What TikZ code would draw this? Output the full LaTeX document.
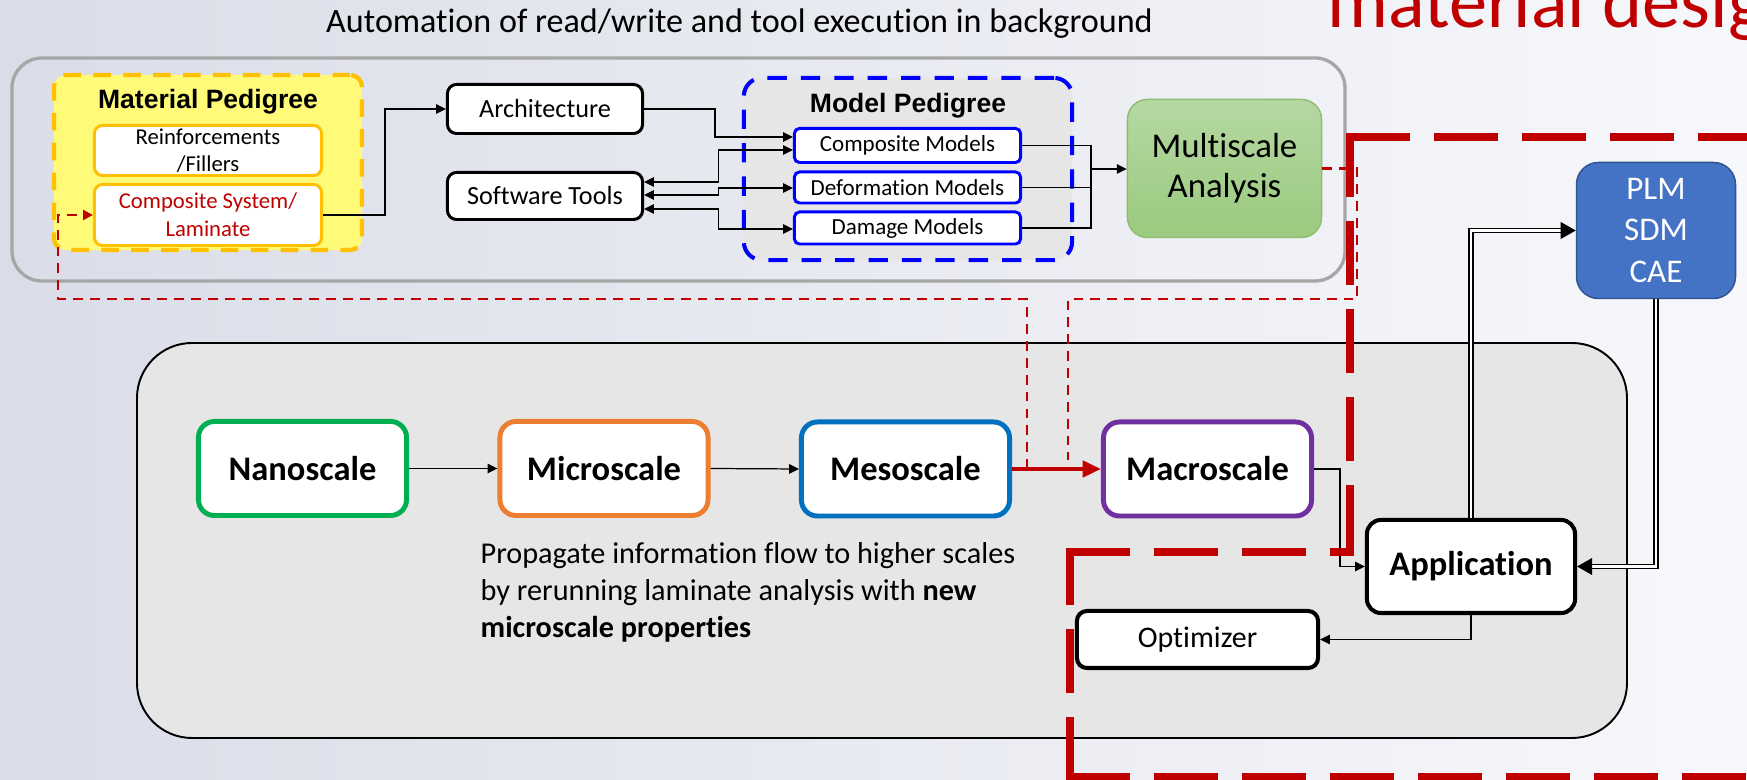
\documentclass[tikz,border=0pt]{standalone}
\usepackage{fontspec}
\setmainfont{Carlito}[Ligatures=NoCommon]
\newfontfamily\arialfont{Liberation Sans}
\usetikzlibrary{arrows.meta,calc}
\definecolor{bgL}{HTML}{DADDE8}
\definecolor{bgR}{HTML}{F7F8FB}
\definecolor{dred}{HTML}{C00000}
\definecolor{gold}{HTML}{FFC000}
\definecolor{lemon}{HTML}{FFFA78}
\definecolor{pedblue}{HTML}{0000FF}
\definecolor{panel}{HTML}{E6E6E6}
\definecolor{frame}{HTML}{A6A6A6}
\definecolor{greenT}{HTML}{B5D8A2}
\definecolor{greenB}{HTML}{9BCA7F}
\definecolor{greenE}{HTML}{8CBE6E}
\definecolor{plmfill}{HTML}{4472C4}
\definecolor{plmedge}{HTML}{2F528F}
\definecolor{nanoC}{HTML}{00B050}
\definecolor{microC}{HTML}{ED7D31}
\definecolor{mesoC}{HTML}{0070C0}
\definecolor{macroC}{HTML}{7030A0}
\begin{document}
\begin{tikzpicture}[x=0.01cm,y=-0.01cm,
  conn/.style={line width=0.35pt, draw=black},
  arr/.style={conn, -{Triangle[length=2.8pt,width=2.7pt]}},
  biarr/.style={conn, {Triangle[length=2.8pt,width=2.7pt]}-{Triangle[length=2.8pt,width=2.7pt]}},
  fbdash/.style={draw=dred, line width=0.7pt, dash pattern=on 2.8pt off 2pt},
  bigdash/.style={draw=dred, line width=2pt, line cap=rect, dash pattern=on 16.2pt off 8.8pt},
  dbl/.style={draw=black, line width=0.35pt, double=white, double distance=0.8pt},
  dbltip/.style={line width=0.35pt, -{Triangle[length=4.3pt,width=4.8pt]}},
  whitebox/.style={draw=black, fill=white, line width=0.85pt, rounded corners=0.09cm, inner sep=0pt, minimum width=1.95cm, font=\fontsize{7.45}{9}\selectfont},
  modelbox/.style={draw=pedblue, fill=white, line width=0.85pt, rounded corners=0.05cm, inner sep=0pt, minimum width=2.26cm, font=\fontsize{6.55}{8}\selectfont},
  matbox/.style={draw=gold, fill=white, line width=0.85pt, rounded corners=0.08cm, inner sep=0pt, minimum width=2.27cm, align=center},
  scalebox/.style={draw=#1, fill=white, line width=1.4pt, rounded corners=0.16cm, inner sep=0pt, minimum width=2.08cm, minimum height=0.94cm, font=\bfseries\fontsize{9.8}{11}\selectfont},
  heavybox/.style={draw=black, fill=white, line width=1.15pt, rounded corners=0.14cm, inner sep=0pt},
  pedlabel/.style={font=\arialfont\bfseries\fontsize{7.55}{9}\selectfont, inner sep=0pt}
]
\useasboundingbox (0,0) rectangle (1747,780);
\clip (0,0) rectangle (1747,780);
\shade[left color=bgL, right color=bgR] (0,0) rectangle (1747,780);

% headings
\node[font=\fontsize{9.7}{11}\selectfont, anchor=base, inner sep=0pt] (head) at (739.5,33) {Automation of read/write and tool execution in background};
\node[font=\fontsize{21.7}{26}\selectfont, text=dred, anchor=base west, inner sep=0pt] (design) at (1327,28) {material design};

% frames
\draw[frame, line width=0.94pt, rounded corners=0.3cm] (12,58) rectangle (1345,281);
\draw[black, fill=panel, line width=0.55pt, rounded corners=0.55cm] (137,343) rectangle (1627,738);

% material pedigree
\node[draw=gold, fill=lemon, line width=1.2pt, dash pattern=on 5pt off 3.5pt, rounded corners=0.12cm, minimum width=3.08cm, minimum height=1.75cm] (matped) at (208,162.5) {};
\node[pedlabel] (matlbl) at (208,102) {Material Pedigree};
\node[matbox, minimum height=0.50cm, font=\fontsize{6.45}{7.7}\selectfont] (reinf) at (208,150.5) {Reinforcements\\/Fillers};
\node[matbox, minimum height=0.61cm, text=dred, font=\fontsize{6.45}{8}\selectfont] (compsys) at (208,215) {Composite System/\\Laminate};

% inputs
\node[whitebox, minimum height=0.49cm] (arch) at (545,109) {Architecture};
\node[whitebox, minimum height=0.47cm] (soft) at (545,196) {Software Tools};

% model pedigree
\node[draw=pedblue, fill=panel, line width=1.15pt, dash pattern=on 5.5pt off 4pt, rounded corners=0.18cm, minimum width=3.28cm, minimum height=1.82cm] (modped) at (908,169) {};
\node[pedlabel] (modlbl) at (908,106) {Model Pedigree};
\node[modelbox, minimum height=0.34cm] (compm) at (907.5,145.5) {Composite Models};
\node[modelbox, minimum height=0.31cm] (deform) at (907.5,187.5) {Deformation Models};
\node[modelbox, minimum height=0.32cm] (damage) at (907.5,228) {Damage Models};

% analysis and data management
\node[draw=greenE, line width=0.4pt, top color=greenT, bottom color=greenB, rounded corners=0.2cm, minimum width=1.94cm, minimum height=1.38cm, align=center, font=\fontsize{9.9}{11.4}\selectfont] (multi) at (1224.5,168.5) {Multiscale\\Analysis};
\node[draw=plmedge, fill=plmfill, line width=0.4pt, rounded corners=0.22cm, minimum width=1.59cm, minimum height=1.36cm, text=white, align=center, font=\fontsize{9.4}{11.7}\selectfont] (plm) at (1656,230.5) {PLM\\SDM\\CAE};

% scales
\node[scalebox=nanoC] (nano) at (302.5,468.5) {Nanoscale};
\node[scalebox=microC] (micro) at (604,468.5) {Microscale};
\node[scalebox=mesoC] (meso) at (905.5,469) {Mesoscale};
\node[scalebox=macroC] (macro) at (1207.5,469) {Macroscale};
\node[heavybox, minimum width=2.08cm, minimum height=0.93cm, font=\bfseries\fontsize{9.8}{11}\selectfont] (app) at (1471,566.5) {Application};
\node[heavybox, rounded corners=0.1cm, minimum width=2.41cm, minimum height=0.57cm, font=\fontsize{8.5}{10}\selectfont] (opt) at (1197.5,639.5) {Optimizer};

\node[anchor=north west, align=left, inner sep=0pt, font=\fontsize{8.6}{10.5}\selectfont] (note) at (480,542) {Propagate information flow to higher scales\\by rerunning laminate analysis with \textbf{new}\\\textbf{microscale properties}};

% connectors, top row
\draw[arr] (compsys.east) -- ++(62,0) |- (arch.west);
\draw[arr] (arch.east) -- ++(71,0) |- ($(compm.west)+(0,-8.5)$);
\draw[biarr] ($(soft.east)+(0,-14)$) -| ($(compm.west)+(-74.5,4.5)$) -- ($(compm.west)+(0,4.5)$);
\draw[biarr] ($(soft.east)+(0,-1)$) -| ($(deform.west)+(-74.5,0.5)$) -- ($(deform.west)+(0,0.5)$);
\draw[biarr] ($(soft.east)+(0,13)$) -| ($(damage.west)+(-74.5,1)$) -- ($(damage.west)+(0,1)$);
\coordinate (mrg) at (1091,169);
\draw[conn] (compm.east) -| (mrg);
\draw[conn] (damage.east) -| (mrg);
\draw[conn] (deform.east) -- (deform.east -| mrg);
\draw[arr] (mrg) -- (mrg -| multi.west);

% connectors, scale row
\draw[arr] (nano.east) -- (micro.west);
\draw[arr] (micro.east) -- (meso.west);
\draw[draw=dred, line width=1.15pt, -{Triangle[length=5.2pt,width=4.6pt]}] (meso.east) -- (macro.west);
\draw[arr] (macro.east) -- ++(26,0) |- (app.west);
\draw[arr] (app.south) |- (opt.east);
\draw[dbl, shorten >=3.5pt] (app.north) |- (plm.west);
\draw[dbltip] ($(plm.west)+(-6,0)$) -- (plm.west);
\draw[dbl, shorten >=3.5pt] (plm.south) |- (app.east);
\draw[dbltip] ($(app.east)+(6,0)$) -- (app.east);

% feedback loops
\coordinate (fbA) at (1027,469);
\coordinate (fbB) at (58,299);
\draw[fbdash, -{Triangle[length=2.8pt,width=2.8pt]}] (fbA) |- (fbB) |- (compsys.west);
\coordinate (mA) at (1357,299);
\coordinate (mB) at (1068,460);
\draw[fbdash] (multi.east) -| (mA) -| (mB);

% design region outline
\coordinate (dA) at (1350,137);
\coordinate (dB) at (1350,552);
\coordinate (dC) at (1070,552);
\coordinate (dD) at (1070,777);
\draw[bigdash] (dA) -- (1760,137);
\draw[bigdash] (dA) -- (dB);
\draw[bigdash] (dC) -- (dB);
\draw[bigdash] (dD) -- (dC);
\draw[bigdash] (dD) -- (1760,777);
\end{tikzpicture}
\end{document}
